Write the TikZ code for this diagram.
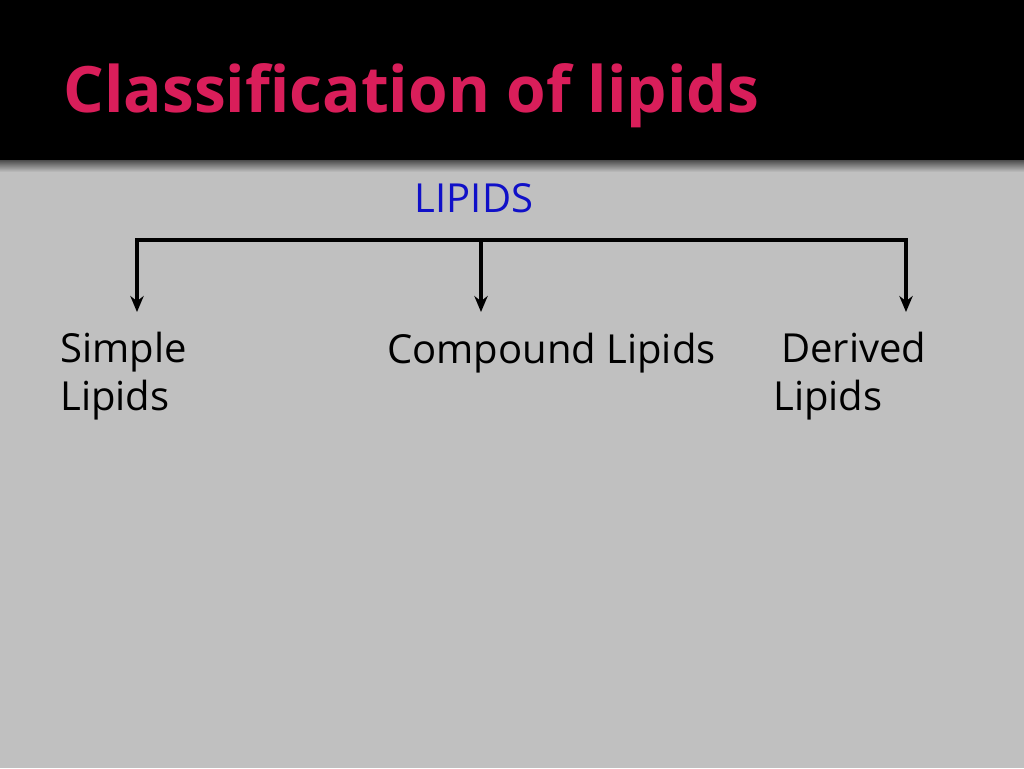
\documentclass[tikz,border=0pt]{standalone}
\usepackage{fontspec}
\setmainfont{Open Sans}
\usetikzlibrary{arrows.meta}
\definecolor{bg}{HTML}{C0C0C0}
\definecolor{ttl}{HTML}{D91E5A}
\definecolor{lbl}{HTML}{1010C8}
\begin{document}
\begin{tikzpicture}[x=0.75pt,y=-0.75pt,
  txt/.style={font=\fontsize{30}{36}\selectfont, inner sep=0, anchor=west, align=left},
  ln/.style={line width=3pt},
  arr/.style={ln,-{Stealth[length=12pt,width=10pt]}}]
\useasboundingbox (0,0) rectangle (1024,768);
\fill[bg] (0,0) rectangle (1024,768);
\fill[black] (0,0) rectangle (1024,160);
\shade[top color=gray!60!black, bottom color=bg] (0,160) rectangle (1024,172);
\node[inner sep=0, anchor=base west, text=ttl, font=\bfseries\fontsize{48}{58}\selectfont] (title) at (63,112) {Classification of lipids};
\node[inner sep=0, anchor=base, text=lbl, font=\fontsize{30}{36}\selectfont] (lip) at (474,212) {LIPIDS};
\node[txt] (s) at (60,376) {Simple\\Lipids};
\node[txt, anchor=base west] (c) at (387,363) {Compound Lipids};
\node[txt] (d) at (773,376) {\hspace*{6pt}Derived\\Lipids};
\coordinate (l) at (137,240); \coordinate (m) at (481,240); \coordinate (r) at (906,240);
\coordinate (la) at (137,312); \coordinate (ma) at (481,312); \coordinate (ra) at (906,312);
\draw[ln, line cap=rect] (l) -- (r);
\draw[arr] (l) -- (la);
\draw[arr] (m) -- (ma);
\draw[arr] (r) -- (ra);
\end{tikzpicture}
\end{document}
